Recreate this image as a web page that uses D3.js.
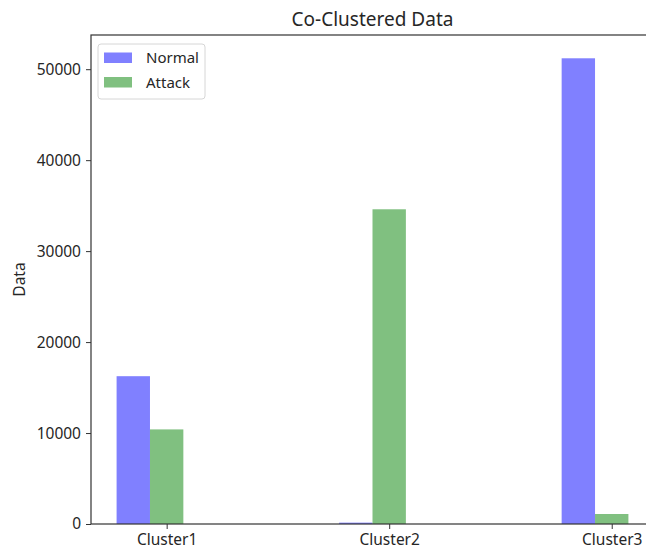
<!DOCTYPE html>
<html>
<head>
<meta charset="utf-8">
<script src="https://cdn.jsdelivr.net/npm/d3@7"></script>
<style>
  html, body { margin: 0; padding: 0; background: #fff; }
  svg { display: block; }
  text { font-family: "Noto Sans", "Open Sans", sans-serif; fill: #262626; }
</style>
</head>
<body>
<svg id="chart" width="646" height="550"></svg>
<script>
// Cluster composition: record counts per cluster
const categories = ["Cluster1", "Cluster2", "Cluster3"];
const normalValues = [16250, 150, 51200];
const attackValues = [10400, 34600, 1100];
const seriesNames = ["Normal", "Attack"];
const yTicks = [0, 10000, 20000, 30000, 40000, 50000];

const svg = d3.select("#chart");
const plot = { left: 91, top: 35, right: 654, bottom: 524 };
const barWidth = 0.15;
const colors = { Normal: "#8080ff", Attack: "#80c080" };

// x runs in category-index units, padded like a default bar plot
const xMin = -barWidth * 1.5, xMax = (categories.length - 1) + barWidth / 2;
const pad = (xMax - xMin) * 0.05;
const x = d3.scaleLinear().domain([xMin - pad, xMax + pad]).range([plot.left, plot.right]);

const yMax = d3.max(normalValues.concat(attackValues)) * 1.05;
const y = d3.scaleLinear().domain([0, yMax]).range([plot.bottom, plot.top]);

const series = [
  { name: "Normal", values: normalValues, offset: -barWidth },
  { name: "Attack", values: attackValues, offset: 0 }
];

const g = svg.append("g");
series.forEach(s => {
  g.selectAll(null)
    .data(s.values)
    .enter()
    .append("rect")
    .attr("x", (d, i) => x(i + s.offset - barWidth / 2))
    .attr("width", x(barWidth) - x(0))
    .attr("y", d => y(d))
    .attr("height", d => y(0) - y(d))
    .attr("fill", colors[s.name]);
});

// axes
const yAxis = d3.axisLeft(y).tickValues(yTicks).tickFormat(d3.format("d")).tickSize(5).tickPadding(5);
const xAxis = d3.axisBottom(x).tickValues(categories.map((c, i) => i)).tickFormat(i => categories[i]).tickSize(5).tickPadding(4.5);

const ya = svg.append("g").attr("transform", `translate(${plot.left},0)`).call(yAxis);
const xa = svg.append("g").attr("transform", `translate(0,${plot.bottom})`).call(xAxis);
[ya, xa].forEach(a => {
  a.select(".domain").remove();
  a.selectAll(".tick line").attr("stroke", "#333").attr("stroke-width", 1);
  a.selectAll(".tick text").attr("fill", "#262626").style("font-size", "15.5px")
    .style("font-family", "'Noto Sans', sans-serif");
});

// frame
svg.append("rect")
  .attr("x", plot.left).attr("y", plot.top)
  .attr("width", plot.right - plot.left).attr("height", plot.bottom - plot.top)
  .attr("fill", "none").attr("stroke", "#333").attr("stroke-width", 1.2);

// title and axis label
svg.append("text")
  .attr("x", (plot.left + plot.right) / 2).attr("y", 26)
  .attr("text-anchor", "middle").style("font-size", "19px")
  .text("Co-Clustered Data");

svg.append("text")
  .attr("transform", `translate(25,${(plot.top + plot.bottom) / 2}) rotate(-90)`)
  .attr("text-anchor", "middle").style("font-size", "15.5px")
  .text("Data");

// legend
const lg = svg.append("g").attr("transform", "translate(98,44)");
lg.append("rect").attr("width", 107).attr("height", 55).attr("rx", 3)
  .attr("fill", "#fff").attr("fill-opacity", 0.8).attr("stroke", "#d6d6d6");
seriesNames.forEach((n, i) => {
  lg.append("rect").attr("x", 6).attr("y", 8.5 + i * 24.5).attr("width", 28).attr("height", 10.5)
    .attr("fill", colors[n]);
  lg.append("text").attr("x", 48).attr("y", 19 + i * 24.5).style("font-size", "15px").text(n);
});
</script>
</body>
</html>
